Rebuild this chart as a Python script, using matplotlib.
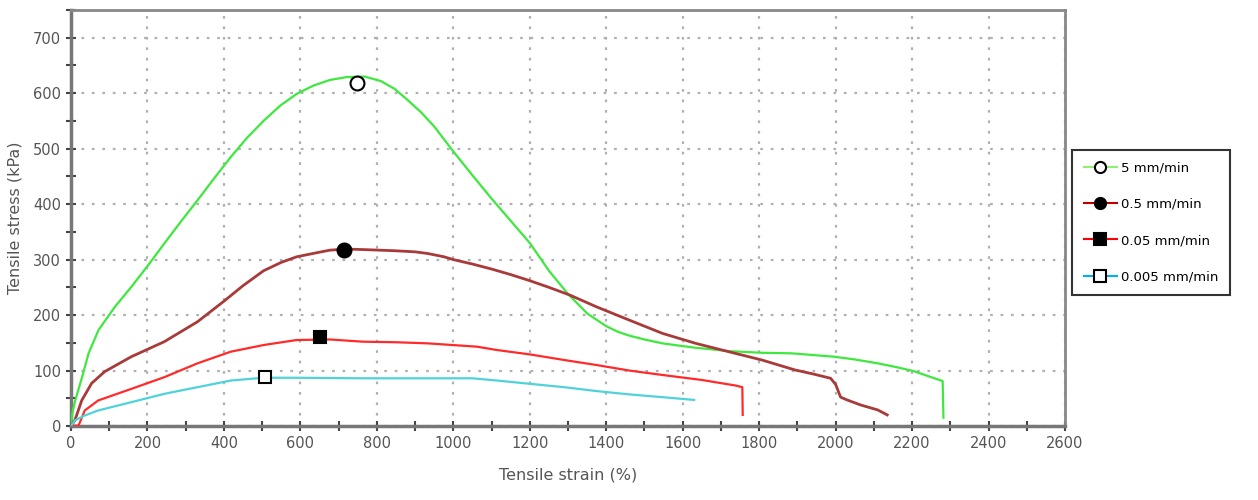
import numpy as np
import matplotlib.pyplot as plt
from matplotlib.lines import Line2D
from matplotlib.ticker import MultipleLocator

# 5 mm/min
strain_5 = [0, 4, 11, 29, 46, 72, 115, 158, 202, 245, 288, 332, 375, 418, 461, 505, 548, 591,
            635, 678, 721, 768, 810, 846, 880, 915, 950, 1000, 1050, 1100, 1150, 1200,
            1250, 1300, 1350, 1400, 1430, 1460, 1500, 1547, 1590, 1634,
            1680, 1720, 1807, 1885, 1995, 2050, 2110, 2160, 2204, 2250, 2280, 2282]
stress_5 = [0, 25, 46, 88, 131, 173, 215, 251, 290, 330, 369, 408, 447, 485, 520, 551, 578, 599,
            614, 624, 629, 630, 622, 608, 588, 566, 540, 495, 452, 410, 370, 330,
            280, 238, 203, 180, 170, 163, 156, 149, 145, 141,
            138, 135, 132, 131, 125, 120, 113, 106, 99, 88, 81, 15]

# 0.5 mm/min
strain_05 = [0, 10, 28, 54, 88, 158, 244, 331, 400, 450, 504, 550, 590, 640, 677, 720, 768, 846,
             900, 933, 976, 1000, 1050, 1100, 1150, 1200, 1250, 1305, 1374, 1460, 1547, 1634,
             1720, 1807, 1894, 1940, 1987, 2000, 2013, 2030, 2065, 2110, 2135]
stress_05 = [0, 10, 46, 77, 98, 125, 152, 188, 225, 253, 280, 295, 305, 312, 317, 319, 318, 316,
             314, 311, 305, 300, 292, 283, 273, 262, 250, 236, 215, 191, 167, 149,
             134, 119, 101, 94, 86, 75, 52, 47, 38, 29, 20]

# 0.05 mm/min
strain_005 = [0, 20, 36, 71, 158, 244, 331, 418, 504, 590, 677, 764, 850, 933, 1062, 1114, 1201,
              1290, 1374, 1460, 1547, 1650, 1738, 1756, 1757]
stress_005 = [0, 1, 28, 46, 67, 88, 113, 134, 146, 155, 156, 152, 151, 149, 143, 137, 129,
              119, 110, 100, 92, 83, 73, 70, 20]

# 0.005 mm/min
strain_0005 = [0, 10, 36, 71, 158, 244, 331, 418, 504, 590, 764, 900, 1050, 1114, 1201, 1290,
               1374, 1460, 1547, 1630]
stress_0005 = [0, 10, 19, 28, 43, 58, 70, 82, 87, 87, 86, 86, 86, 82, 76, 70,
               63, 57, 52, 47]

# peak markers
peak_x = [749, 715, 652, 508]
peak_y = [619, 318, 160, 88]

labels = ['5 mm/min', '0.5 mm/min', '0.05 mm/min', '0.005 mm/min']
colors = ['#3ee83e', '#a83a3a', '#ff2a2a', '#4fd3d8']
leg_colors = ['#90f070', '#c00000', '#ff0000', '#00b0f0']
markers = ['o', 'o', 's', 's']
faces = ['white', 'black', 'black', 'white']

fig = plt.figure(figsize=(12.58, 5), dpi=100)
ax = fig.add_axes([71 / 1258, 74 / 500, (1065 - 71) / 1258, (426 - 10) / 500])

curves = [(strain_5, stress_5), (strain_05, stress_05), (strain_005, stress_005), (strain_0005, stress_0005)]
for i, (xs, ys) in enumerate(curves):
    ax.plot(xs, ys, color=colors[i], lw=1.6 if i != 1 else 2.0, zorder=3)
    ax.plot(peak_x[i], peak_y[i], marker=markers[i], ms=10 if markers[i] == 'o' else 9,
            mfc=faces[i], mec='black', mew=1.5, ls='none', zorder=5)

ax.set_xlim(0, 2600)
ax.set_ylim(0, 750)
ax.xaxis.set_major_locator(MultipleLocator(200))
ax.xaxis.set_minor_locator(MultipleLocator(100))
ax.yaxis.set_minor_locator(MultipleLocator(50))
ax.set_yticks(np.arange(0, 701, 100))
ax.grid(True, which='major', ls=(0, (1.2, 3.5)), color='#b0b0b0', lw=1.6)
ax.tick_params(which='both', direction='inout', color='#444444', width=1.5,
               labelsize=10.5, labelcolor='#555555')
ax.tick_params(which='major', length=7)
ax.tick_params(which='minor', length=7)
for s in ['left', 'bottom']:
    ax.spines[s].set_color('#777777')
    ax.spines[s].set_linewidth(2.5)
for s in ['top', 'right']:
    ax.spines[s].set_color('#888888')
    ax.spines[s].set_linewidth(2)

ax.set_xlabel('Tensile strain (%)', fontsize=11.5, color='#555555', labelpad=12)
ax.set_ylabel('Tensile stress (kPa)', fontsize=11.5, color='#555555', labelpad=8)

handles = [Line2D([], [], color=leg_colors[i], lw=1.5, marker=markers[i], ms=8,
                  mfc=faces[i], mec='black', mew=1.5) for i in range(4)]
leg = fig.legend(handles, labels, loc='upper left', bbox_to_anchor=(1072 / 1258, 1 - 150 / 500),
                 frameon=True, fancybox=False, edgecolor='black', fontsize=9.5,
                 labelspacing=1.75, borderpad=0.9, handlelength=2.5, handletextpad=0.3,
                 borderaxespad=0)
leg.get_frame().set_linewidth(1.5)

fig.savefig('out.png', dpi=100)
